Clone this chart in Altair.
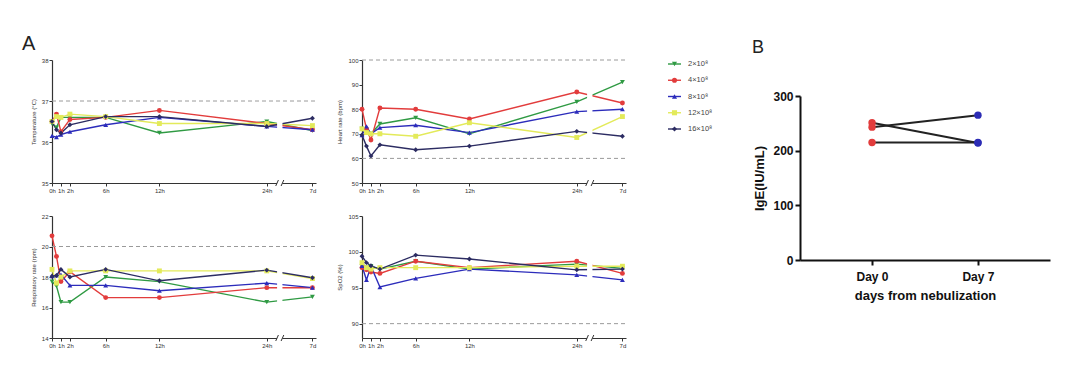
import altair as alt
import pandas as pd

FONT = "Liberation Sans, Arial, sans-serif"

# ---------------- data ----------------
series = ["2×10⁸", "4×10⁸", "8×10⁸", "12×10⁸", "16×10⁸"]
colors = ["#2f9a43", "#e23c3c", "#2c2cbb", "#e3ea5a", "#2c2c62"]
shapes = ["triangle-down", "circle", "triangle-up", "square", "diamond"]

# time points (7d placed after the axis break)
time_pos = [0, 0.5, 1, 2, 6, 12, 24, 29.1]
tick_pos = [0, 1, 2, 6, 12, 24, 29.1]
tick_labels = ["0h", "1h", "2h", "6h", "12h", "24h", "7d"]

temp_green = [36.45, 36.35, 36.6, 36.6, 36.6, 36.22, 36.5, 36.28]
temp_red = [36.5, 36.68, 36.25, 36.55, 36.6, 36.77, 36.45, 36.3]
temp_blue = [36.15, 36.12, 36.18, 36.25, 36.42, 36.6, 36.38, 36.3]
temp_yellow = [36.5, 36.62, 36.6, 36.68, 36.62, 36.45, 36.45, 36.4]
temp_navy = [36.5, 36.3, 36.22, 36.42, 36.62, 36.62, 36.38, 36.58]

hr_green = [72, 71, 70, 74, 76.5, 70, 83, 91]
hr_red = [80, 72, 67.5, 80.5, 80, 76, 87, 82.5]
hr_blue = [69.5, 73, 70, 72.5, 73.5, 70.5, 79, 80]
hr_yellow = [72, 70.5, 70, 70, 69, 74.5, 68.5, 77]
hr_navy = [69.5, 65, 61, 65.5, 63.5, 65, 71, 69]

rr_green = [17.7, 17.4, 16.35, 16.35, 18.0, 17.7, 16.35, 16.7]
rr_red = [20.7, 19.35, 17.7, 18.35, 16.65, 16.65, 17.3, 17.3]
rr_blue = [18.05, 18.1, 18.15, 17.45, 17.45, 17.1, 17.6, 17.3]
rr_yellow = [18.5, 17.6, 18.0, 18.4, 18.4, 18.4, 18.4, 17.9]
rr_navy = [18.05, 18.1, 18.5, 18.0, 18.5, 17.75, 18.45, 17.95]

spo_green = [98.0, 97.8, 98.0, 97.6, 98.7, 97.6, 98.3, 97.7]
spo_red = [97.8, 97.5, 97.2, 97.0, 98.7, 97.8, 98.7, 97.0]
spo_blue = [98.06, 96.1, 98.0, 95.1, 96.3, 97.6, 96.8, 96.1]
spo_yellow = [98.5, 97.8, 97.6, 97.8, 97.8, 97.8, 98.0, 98.0]
spo_navy = [99.4, 98.5, 98.06, 97.6, 99.55, 99.0, 97.5, 97.6]

# axis break location (hours on the broken axis)
gap_lo, gap_hi = 25.15, 25.75

# panel B
b_days = ["Day 0", "Day 7"]
b_day0 = [251, 243, 215]
b_day7 = [214, 265, 215]
b_colors = ["#e23c3c", "#2c2cb5"]

W, H_TOP, H_BOT = 264, 123, 122
AX = "#333333"

label_expr = "({" + ",".join(f"'{p}':'{l}'" for p, l in zip(tick_pos, tick_labels)) + "})[''+datum.value]"

color_enc = alt.Color("series:N", scale=alt.Scale(domain=series, range=colors), legend=None)
shape_enc = alt.Shape("series:N", scale=alt.Scale(domain=series, range=shapes), legend=None)


def panel(vals, ymin, ymax, yticks, ytitle, refs, h, title=None):
    rows = []
    for s, vs in zip(series, vals):
        for t, v in zip(time_pos, vs):
            rows.append({"series": s, "t": t, "v": v})
    df = pd.DataFrame(rows)
    xs = alt.X("t:Q", scale=alt.Scale(domain=[0, 29.5], nice=False, zero=False),
               axis=alt.Axis(values=tick_pos, labelExpr=label_expr, title=None, grid=False,
                             labelOverlap=False, labelFlush=False, domainColor=AX, domainWidth=1.2,
                             tickColor=AX, tickSize=3, tickWidth=1, labelFontSize=6, labelColor=AX,
                             labelPadding=1, labelFont=FONT, zindex=0))
    ys = alt.Y("v:Q", scale=alt.Scale(domain=[ymin, ymax], nice=False, zero=False),
               axis=alt.Axis(values=yticks, title=ytitle, grid=False, labelFlush=False,
                             domainColor=AX, domainWidth=1.2, tickColor=AX, tickSize=3, tickWidth=1,
                             labelFontSize=6, labelColor=AX, labelPadding=1, labelFont=FONT,
                             titleFont=FONT, titleFontSize=6, titleFontWeight="normal",
                             titleColor=AX, titlePadding=5, zindex=0))
    base = alt.Chart(df)
    lines = base.mark_line(strokeWidth=1.4).encode(x=xs, y=ys, color=color_enc, detail="series:N")
    pts = base.mark_point(filled=True, size=24, opacity=1).encode(x=xs, y=ys, color=color_enc, shape=shape_enc)
    gap = alt.Chart(pd.DataFrame({"t": [gap_lo], "t2": [gap_hi]})).mark_rect(color="white").encode(
        x=xs, x2="t2:Q", y=alt.value(0), y2=alt.value(h + 2))
    ref = alt.Chart(pd.DataFrame({"v": refs})).mark_rule(strokeDash=[4, 3], color="#9a9a9a", strokeWidth=1).encode(
        y=ys, x=alt.value(0), x2=alt.value(W))
    sl = alt.Chart(pd.DataFrame({"t": [gap_lo - 0.15, gap_hi - 0.15], "t2": [gap_lo + 0.15, gap_hi + 0.15]})).mark_rule(
        color=AX, strokeWidth=1).encode(x=xs, x2="t2:Q", y=alt.value(h + 3), y2=alt.value(h - 3))
    ch = alt.layer(lines, pts, gap, ref, sl).properties(width=W, height=h)
    if title:
        ch = ch.properties(title=alt.TitleParams(title, anchor="start", frame="group", fontSize=20,
                                                 fontWeight="normal", font=FONT, color="#222", dx=-30, offset=3))
    return ch


TL = panel([temp_green, temp_red, temp_blue, temp_yellow, temp_navy], 35, 38, [35, 36, 37, 38],
           "Temperature (°C)", [37], H_TOP, title="A")
TR = panel([hr_green, hr_red, hr_blue, hr_yellow, hr_navy], 50, 100, [50, 60, 70, 80, 90, 100],
           "Heart rate (bpm)", [60, 100], H_TOP)
BL = panel([rr_green, rr_red, rr_blue, rr_yellow, rr_navy], 14, 22, [14, 16, 18, 20, 22],
           "Respiratory rate (rpm)", [20], H_BOT)
BR = panel([spo_green, spo_red, spo_blue, spo_yellow, spo_navy], 88, 105, [90, 95, 100, 105],
           "SpO2 (%)", [90], H_BOT)

# legend
leg_df = pd.DataFrame({"series": series})
ly = alt.Y("series:N", scale=alt.Scale(type="point", domain=series, range=[4, 69], padding=0), axis=None)
leg_line = alt.Chart(leg_df).mark_rule(strokeWidth=1.4).encode(y=ly, x=alt.value(-4), x2=alt.value(9), color=color_enc)
leg_pt = alt.Chart(leg_df).mark_point(filled=True, size=26, opacity=1).encode(
    y=ly, x=alt.value(2.5), color=color_enc, shape=shape_enc)
leg_txt = alt.Chart(leg_df).mark_text(align="left", baseline="middle", fontSize=7.5, color="#444", font=FONT).encode(
    y=ly, x=alt.value(16), text="series:N")
LEG = alt.layer(leg_line, leg_pt, leg_txt).properties(width=82, height=100)

# panel B
B_H = 156
b_rows = []
for i, (a, b) in enumerate(zip(b_day0, b_day7)):
    b_rows.append({"subj": i, "day": b_days[0], "val": a})
    b_rows.append({"subj": i, "day": b_days[1], "val": b})
bdf = pd.DataFrame(b_rows)
bx = alt.X("day:N", scale=alt.Scale(type="point", domain=b_days, padding=0.68),
           axis=alt.Axis(title="days from nebulization", labelAngle=0, domainColor="#111", domainWidth=2,
                         tickColor="#111", tickWidth=2, tickSize=5, labelFontSize=12, labelFontWeight="bold",
                         labelColor="#111", labelFont=FONT, labelPadding=6, titleFont=FONT, titleFontSize=13,
                         titleFontWeight="bold", titleColor="#111", titlePadding=7, offset=200 - B_H))
by = alt.Y("val:Q", scale=alt.Scale(domain=[0, 300], range=[200, 36], nice=False, zero=True),
           axis=alt.Axis(title="IgE(IU/mL)", values=[0, 100, 200, 300], grid=False, domainColor="#111",
                         domainWidth=2, tickColor="#111", tickWidth=2, tickSize=5, labelFontSize=12,
                         labelFontWeight="bold", labelColor="#111", labelFont=FONT, labelPadding=2,
                         titleFont=FONT, titleFontSize=13, titleFontWeight="bold", titleColor="#111",
                         titlePadding=6))
b_lines = alt.Chart(bdf).mark_line(color="#222", strokeWidth=2).encode(x=bx, y=by, detail="subj:N")
b_pts0 = alt.Chart(bdf).transform_filter(alt.datum.day == b_days[0]).mark_circle(
    size=55, opacity=1, color=b_colors[0]).encode(x=bx, y=by)
b_pts7 = alt.Chart(bdf).transform_filter(alt.datum.day == b_days[1]).mark_circle(
    size=55, opacity=1, color=b_colors[1]).encode(x=bx, y=by)
B = alt.layer(b_lines, b_pts0, b_pts7).properties(
    width=250, height=B_H,
    title=alt.TitleParams("B", anchor="start", frame="group", fontSize=18, fontWeight="normal", font=FONT,
                          color="#222", dx=-48, offset=3))

chart = alt.concat(TL, TR, LEG, B, BL, BR, columns=4, spacing={"row": 0, "column": 46},
                   bounds="flush", align="each").properties(
    padding={"left": 14, "top": 26, "right": 5, "bottom": 5}, background="white"
).configure_view(stroke=None)

chart.save("out.html", embed_options={"renderer": "svg", "actions": False})
